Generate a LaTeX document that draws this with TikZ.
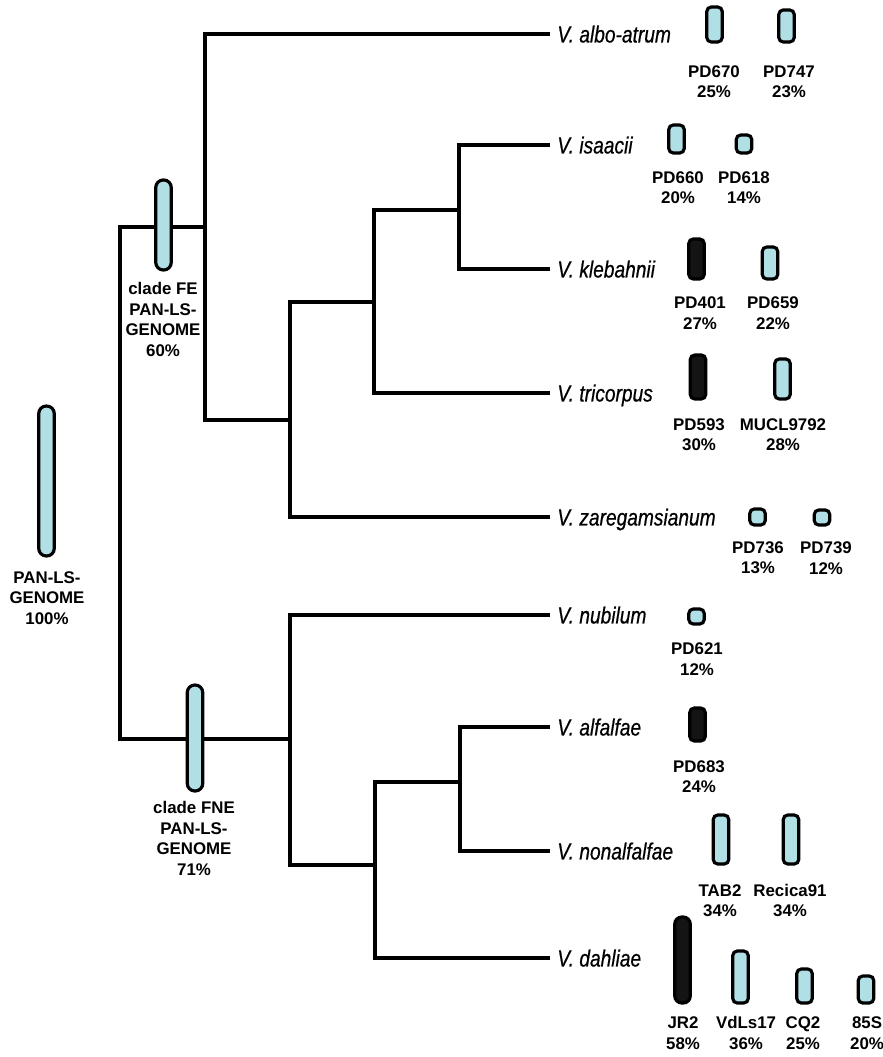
\documentclass[tikz,border=0pt]{standalone}
\usepackage{fontspec}
\setmainfont{Liberation Sans}
\newfontfamily\narrowsans[FakeStretch=0.82, FakeBold=0.6]{Liberation Sans}
\definecolor{capblue}{RGB}{176,223,230}
\definecolor{capdark}{RGB}{20,20,20}
\tikzset{
  branch/.style={line width=2.1pt},
  species/.style={anchor=west, inner sep=0pt, inner xsep=0.14cm, text depth=0pt, font=\narrowsans\itshape\fontsize{13.3}{16}\selectfont},
  iso/.style={draw, line width=1.8pt, fill=capblue, rounded corners=0.09cm, minimum width=0.31cm, inner sep=0pt, minimum height=#1},
  isodark/.style={iso=#1, fill=capdark},
  clade/.style={iso=#1, rounded corners=0.15cm},
  isolabel/.style={align=center, inner sep=0pt, font=\bfseries\fontsize{9.6}{11.6}\selectfont}
}

\begin{document}
\begin{tikzpicture}[x=0.02cm, y=-0.02cm]
    \useasboundingbox (0,0) rectangle (882,1057);

    \node[species] (albo) at (550,34) {V. albo-atrum};
    \node[species] (isa) at (550,145) {V. isaacii};
    \node[species] (kle) at (550,269) {V. klebahnii};
    \node[species] (tri) at (550,393) {V. tricorpus};
    \node[species] (zar) at (550,517) {V. zaregamsianum};
    \node[species] (nub) at (550,615) {V. nubilum};
    \node[species] (alf) at (550,727) {V. alfalfae};
    \node[species] (non) at (550,851) {V. nonalfalfae};
    \node[species] (dah) at (550,958) {V. dahliae};

    \coordinate (root) at (120,480);
    \coordinate (fe) at (205,227);
    \coordinate (fnej) at (290,739);
    \coordinate (c2) at (290,420);
    \coordinate (c3) at (374,302);
    \coordinate (c4) at (459,210);
    \coordinate (c6) at (375,865);
    \coordinate (c7) at (460,782);

    \draw[branch] (fe) -| (root) |- (fnej);
    \draw[branch] (albo.west) -| (fe) |- (c2);
    \draw[branch] (c3) -| (c2) |- (zar.west);
    \draw[branch] (c4) -| (c3) |- (tri.west);
    \draw[branch] (isa.west) -| (c4) |- (kle.west);
    \draw[branch] (nub.west) -| (fnej) |- (c6);
    \draw[branch] (c7) -| (c6) |- (dah.west);
    \draw[branch] (alf.west) -| (c7) |- (non.west);

    \node[clade=3.0cm] (pan) at (46.5,481) {};
    \node[isolabel] (panlab) at (47,598) {PAN-LS-\\GENOME\\100\%};
    \node[clade=1.8cm] (fecap) at (163.5,225) {};
    \node[isolabel] (felab) at (163,319.5) {clade FE\\PAN-LS-\\GENOME\\60\%};
    \node[clade=2.12cm] (fnecap) at (195,738) {};
    \node[isolabel] (fnelab) at (194,838.5) {clade FNE\\PAN-LS-\\GENOME\\71\%};

    \node[iso=0.70cm] (pd670) at (714.5,24.5) {};
    \node[isolabel] (pd670lab) at (714,81.5) {PD670\\25\%};
    \node[iso=0.64cm] (pd747) at (786.5,26) {};
    \node[isolabel] (pd747lab) at (789,81.5) {PD747\\23\%};

    \node[iso=0.56cm] (pd660) at (676.5,139) {};
    \node[isolabel] (pd660lab) at (678,187.5) {PD660\\20\%};
    \node[iso=0.36cm] (pd618) at (744,144) {};
    \node[isolabel] (pd618lab) at (744,187.5) {PD618\\14\%};

    \node[isodark=0.80cm] (pd401) at (696.5,259) {};
    \node[isolabel] (pd401lab) at (700,313) {PD401\\27\%};
    \node[iso=0.64cm] (pd659) at (770,263) {};
    \node[isolabel] (pd659lab) at (773,313) {PD659\\22\%};

    \node[isodark=0.88cm] (pd593) at (698,377) {};
    \node[isolabel] (pd593lab) at (699,434.5) {PD593\\30\%};
    \node[iso=0.80cm] (mucl) at (782.5,379) {};
    \node[isolabel] (mucllab) at (783,434.5) {MUCL9792\\28\%};

    \node[iso=0.32cm] (pd736) at (757.5,517) {};
    \node[isolabel] (pd736lab) at (758,558) {PD736\\13\%};
    \node[iso=0.30cm] (pd739) at (822,517.5) {};
    \node[isolabel] (pd739lab) at (826,558) {PD739\\12\%};

    \node[iso=0.30cm] (pd621) at (696.5,616.5) {};
    \node[isolabel] (pd621lab) at (697,659) {PD621\\12\%};

    \node[isodark=0.66cm] (pd683) at (697.5,724.5) {};
    \node[isolabel] (pd683lab) at (699,776.5) {PD683\\24\%};

    \node[iso=0.98cm] (tab2) at (721,839.5) {};
    \node[isolabel] (tab2lab) at (720,900.5) {TAB2\\34\%};
    \node[iso=0.98cm] (recica) at (791,839.5) {};
    \node[isolabel] (recicalab) at (790,900.5) {Recica91\\34\%};

    \node[isodark=1.72cm, rounded corners=0.14cm] (jr2) at (682.5,960) {};
    \node[isolabel] (jr2lab) at (683,1033) {JR2\\58\%};
    \node[iso=1.04cm] (vdls17) at (740.5,977) {};
    \node[isolabel] (vdls17lab) at (746,1033) {VdLs17\\36\%};
    \node[iso=0.68cm] (cq2) at (804.5,986) {};
    \node[isolabel] (cq2lab) at (803,1033) {CQ2\\25\%};
    \node[iso=0.54cm] (s85) at (866,989.5) {};
    \node[isolabel] (s85lab) at (867,1033) {85S\\20\%};
\end{tikzpicture}
\end{document}
